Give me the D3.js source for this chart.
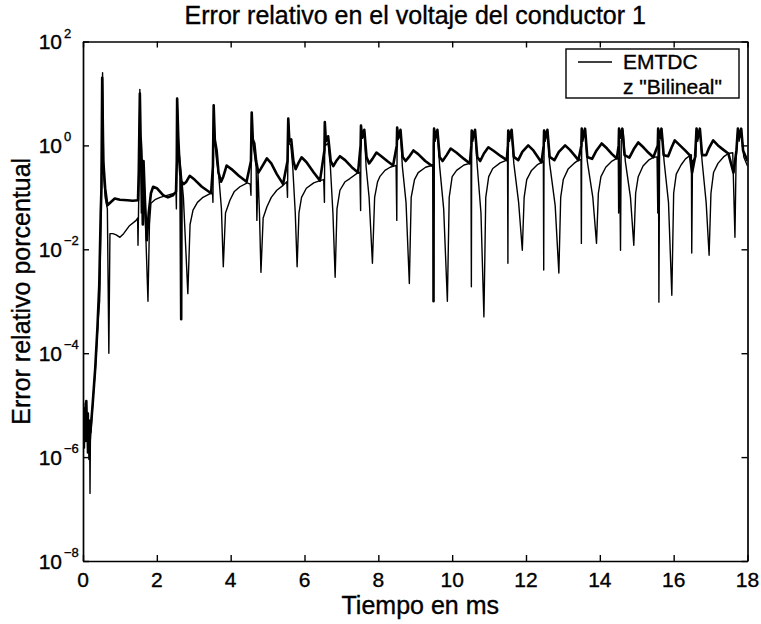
<!DOCTYPE html>
<html>
<head>
<meta charset="utf-8">
<script src="https://cdn.jsdelivr.net/npm/d3@7"></script>
<style>
  body { margin: 0; background: #fff; }
  text { font-family: "Liberation Sans", Arial, sans-serif; fill: #000; stroke: #000; stroke-width: 0.35px; }
</style>
</head>
<body>
<svg id="chart" width="761" height="624"></svg>
<script>
// tick values
var xTicks = [0, 2, 4, 6, 8, 10, 12, 14, 16, 18];
var yExponents = [-8, -6, -4, -2, 0, 2];
var seriesNames = ["EMTDC", "z \"Bilineal\""];

// EMTDC: [time ms, relative error %]
var emtdc = [
  [0.00,3e-6],[0.02,9e-6],[0.04,1.5e-6],[0.06,1.1e-5],[0.08,2e-6],[0.10,7e-6],[0.12,1.2e-6],[0.14,5e-6],[0.16,9e-7],[0.18,3e-6],[0.19,2e-7],[0.20,2e-6],
  [0.27,1.3e-5],[0.34,5.5e-5],[0.41,4.4e-4],[0.45,1e-3],[0.50,0.19],[0.53,25],[0.56,0.3],[0.60,0.1],[0.66,0.06],[0.70,1e-4],[0.73,0.02],[0.81,0.02],[0.90,0.019],[1.00,0.017],[1.10,0.02],[1.25,0.028],[1.44,0.036],
  [1.48,0.04],[1.49,0.012],[1.52,0.3],[1.54,12],[1.56,0.5],[1.58,0.05],[1.61,0.5],[1.65,0.3],[1.70,0.02],[1.76,1e-3],[1.80,0.03],[1.84,0.077],[1.95,0.09],[2.09,0.1],[2.30,0.11],[2.48,0.12],
  [2.52,0.12],[2.53,0.06],[2.55,8],[2.58,1.0],[2.63,0.5],[2.72,0.1],[2.84,1.4e-3],[2.90,0.03],[2.98,0.057],[3.10,0.08],[3.25,0.1],[3.47,0.12],
  [3.51,0.12],[3.52,0.08],[3.54,5.9],[3.57,1.2],[3.62,0.5],[3.67,0.3],[3.75,0.06],[3.80,4.6e-3],[3.86,0.05],[3.98,0.088],[4.10,0.13],[4.25,0.16],[4.45,0.19],
  [4.53,0.18],[4.55,0.11],[4.57,4.3],[4.59,1.25],[4.64,0.7],[4.69,0.38],[4.71,0.036],[4.74,0.3],[4.78,0.05],[4.82,3.6e-3],[4.88,0.04],[4.98,0.065],[5.10,0.1],[5.25,0.137],[5.42,0.17],
  [5.52,0.2],[5.54,0.1],[5.56,3.3],[5.58,1.1],[5.63,1.0],[5.68,0.4],[5.75,0.05],[5.80,4.6e-3],[5.85,0.05],[5.92,0.1],[6.05,0.15],[6.25,0.19],[6.42,0.21],
  [6.52,0.22],[6.54,0.08],[6.55,2.8],[6.57,1.0],[6.64,1.1],[6.70,0.4],[6.77,0.05],[6.83,2.9e-3],[6.88,0.06],[6.96,0.137],[7.10,0.2],[7.23,0.23],[7.45,0.3],
  [7.50,0.3],[7.52,0.056],[7.53,2.4],[7.56,1.5],[7.62,1.9],[7.67,0.38],[7.75,0.1],[7.84,5.4e-3],[7.90,0.1],[7.98,0.2],[8.04,0.25],[8.18,0.33],[8.32,0.38],[8.42,0.4],
  [8.48,0.41],[8.50,0.036],[8.51,2.2],[8.54,1.3],[8.60,1.9],[8.65,0.4],[8.75,0.08],[8.84,2.2e-3],[8.89,0.1],[8.98,0.22],[9.08,0.3],[9.28,0.38],[9.44,0.41],
  [9.48,0.42],[9.50,0.05],[9.51,2.1],[9.54,1.2],[9.60,1.9],[9.66,0.4],[9.77,0.06],[9.87,1e-3],[9.92,0.1],[10.00,0.25],[10.12,0.33],[10.32,0.42],[10.48,0.45],
  [10.51,0.46],[10.52,1.9e-3],[10.53,1.94],[10.56,1.2],[10.62,1.9],[10.68,0.4],[10.78,0.05],[10.86,5e-4],[10.91,0.1],[10.99,0.25],[11.10,0.36],[11.30,0.46],[11.48,0.52],
  [11.50,0.5],[11.51,5.4e-3],[11.52,1.94],[11.55,1.2],[11.61,1.9],[11.67,0.45],[11.80,0.08],[11.90,9.6e-3],[11.95,0.1],[12.02,0.22],[12.15,0.33],[12.30,0.42],[12.42,0.47],
  [12.47,0.5],[12.48,4e-3],[12.49,1.94],[12.52,1.2],[12.58,1.9],[12.64,0.45],[12.79,0.07],[12.89,3.5e-3],[12.94,0.1],[13.01,0.22],[13.14,0.35],[13.30,0.45],[13.42,0.52],
  [13.49,0.54],[13.50,0.013],[13.51,2.1],[13.54,1.2],[13.60,1.9],[13.66,0.5],[13.81,0.1],[13.91,0.013],[13.96,0.12],[14.03,0.25],[14.16,0.38],[14.33,0.5],[14.46,0.56],
  [14.50,0.57],[14.51,0.05],[14.52,2.1],[14.54,0.3],[14.56,9.6e-3],[14.58,1.2],[14.63,1.9],[14.69,0.5],[14.83,0.1],[14.92,0.012],[14.97,0.12],[15.04,0.25],[15.17,0.4],[15.32,0.52],[15.45,0.59],
  [15.55,0.6],[15.57,0.05],[15.58,2.1],[15.59,0.3],[15.60,9.6e-4],[15.62,1.2],[15.68,1.9],[15.74,0.5],[15.86,0.08],[15.95,1.3e-3],[16.00,0.12],[16.07,0.28],[16.20,0.42],[16.32,0.55],[16.44,0.64],
  [16.48,0.66],[16.49,8.5e-3],[16.51,0.5],[16.60,0.6],[16.62,2.1],[16.65,1.2],[16.71,1.9],[16.77,0.5],[16.88,0.08],[16.96,7.7e-3],[17.01,0.12],[17.08,0.3],[17.20,0.45],[17.35,0.6],[17.48,0.7],
  [17.60,0.72],[17.66,0.017],[17.69,0.5],[17.74,2.1],[17.77,1.2],[17.83,1.9],[17.90,0.6],[18.00,0.4]
];

// z "Bilineal": the heavier trace
var bilineal = [
  [0.00,5e-6],[0.03,2e-6],[0.05,8e-6],[0.07,3e-6],[0.09,1.2e-5],[0.11,2.5e-6],[0.13,7e-6],[0.15,1.5e-6],[0.17,5e-6],[0.20,3e-6],
  [0.26,1e-5],[0.33,5e-5],[0.39,3e-4],[0.44,2e-3],[0.48,0.05],[0.50,0.15],[0.52,20],[0.55,0.5],[0.60,0.15],[0.66,0.07],[0.72,0.077],[0.86,0.095],[1.00,0.09],[1.20,0.088],[1.35,0.086],[1.49,0.088],
  [1.51,0.3],[1.54,10],[1.56,1.5],[1.58,0.8],[1.60,0.3],[1.62,0.03],[1.64,0.5],[1.68,0.08],[1.73,0.015],[1.78,0.05],[1.84,0.12],[1.90,0.16],[2.00,0.15],[2.17,0.11],[2.30,0.1],[2.44,0.11],
  [2.52,0.13],[2.54,0.5],[2.55,8],[2.58,1.5],[2.61,0.5],[2.64,0.25],[2.66,4.5e-4],[2.67,0.2],[2.73,0.18],[2.80,0.2],[2.89,0.26],[3.02,0.22],[3.22,0.16],[3.47,0.12],
  [3.52,0.4],[3.54,5.9],[3.57,1.3],[3.62,0.8],[3.67,0.3],[3.74,0.2],[3.80,0.25],[3.89,0.41],[4.02,0.35],[4.22,0.26],[4.43,0.2],
  [4.55,0.5],[4.57,4.3],[4.60,1.3],[4.64,1.1],[4.69,0.5],[4.75,0.3],[4.81,0.35],[4.98,0.56],[5.10,0.45],[5.25,0.28],[5.42,0.18],
  [5.54,0.5],[5.56,3.3],[5.59,1.2],[5.64,1.3],[5.70,0.5],[5.76,0.35],[5.83,0.45],[5.92,0.59],[6.05,0.48],[6.25,0.3],[6.42,0.21],
  [6.54,0.8],[6.55,2.8],[6.58,1.2],[6.64,1.5],[6.71,0.5],[6.78,0.4],[6.86,0.5],[6.96,0.62],[7.10,0.52],[7.28,0.38],[7.45,0.3],
  [7.52,1.0],[7.53,2.4],[7.56,1.4],[7.62,2.0],[7.68,0.6],[7.75,0.45],[7.84,0.55],[7.95,0.73],[8.08,0.62],[8.24,0.5],[8.40,0.41],
  [8.50,1.0],[8.51,2.2],[8.54,1.4],[8.60,2.0],[8.66,0.6],[8.74,0.5],[8.83,0.6],[8.95,0.8],[9.08,0.68],[9.27,0.5],[9.44,0.41],
  [9.49,0.42],[9.495,1e-3],[9.50,1.0],[9.51,2.1],[9.54,1.4],[9.60,2.0],[9.66,0.6],[9.74,0.5],[9.85,0.65],[9.96,0.87],[10.12,0.72],[10.32,0.55],[10.48,0.45],
  [10.52,1.0],[10.53,1.94],[10.56,1.4],[10.62,2.0],[10.68,0.6],[10.76,0.5],[10.86,0.7],[10.98,0.92],[11.13,0.78],[11.32,0.62],[11.48,0.52],
  [11.51,1.0],[11.52,1.94],[11.55,1.4],[11.61,2.0],[11.67,0.6],[11.79,0.52],[11.90,0.75],[12.06,1.0],[12.20,0.8],[12.32,0.6],[12.42,0.47],
  [12.48,1.0],[12.49,1.94],[12.52,1.4],[12.58,2.0],[12.64,0.6],[12.77,0.52],[12.89,0.75],[13.06,1.0],[13.19,0.82],[13.31,0.65],[13.42,0.52],
  [13.50,1.0],[13.51,2.1],[13.54,1.4],[13.60,2.1],[13.66,0.6],[13.79,0.55],[13.91,0.8],[14.05,1.09],[14.19,0.88],[14.33,0.68],[14.46,0.56],
  [14.51,1.0],[14.52,2.1],[14.55,1.4],[14.61,2.1],[14.67,0.65],[14.80,0.58],[14.92,0.85],[15.04,1.14],[15.18,0.92],[15.32,0.72],[15.45,0.59],
  [15.57,1.0],[15.58,2.1],[15.61,1.4],[15.67,2.1],[15.73,0.65],[15.85,0.62],[15.94,0.9],[16.03,1.25],[16.17,1.0],[16.31,0.8],[16.44,0.64],
  [16.50,0.3],[16.58,0.6],[16.62,2.1],[16.65,1.4],[16.71,2.1],[16.77,0.65],[16.88,0.65],[16.96,0.9],[17.07,1.25],[17.20,1.0],[17.35,0.82],[17.48,0.7],
  [17.62,0.3],[17.70,0.8],[17.74,2.1],[17.77,1.4],[17.83,2.1],[17.88,0.8],[18.00,0.5]
];

var svg = d3.select("svg#chart"),
    margin = {top: 41.5, right: 13.5, bottom: 63, left: 83},
    width = +svg.attr("width") - margin.left - margin.right,
    height = +svg.attr("height") - margin.top - margin.bottom;

svg.append("rect").attr("width", 761).attr("height", 624).attr("fill", "#fff");

var x = d3.scaleLinear().domain([0, 18]).range([0, width]);
var y = d3.scaleLog().domain([1e-8, 1e2]).range([height, 0]);

var g = svg.append("g")
    .attr("transform", "translate(" + margin.left + "," + margin.top + ")");

g.append("clipPath").attr("id", "plot-clip")
  .append("rect").attr("width", width).attr("height", height);

// traces
var line = d3.line()
    .x(function(d) { return x(d[0]); })
    .y(function(d) { return y(d[1]); });

var traces = g.append("g").attr("clip-path", "url(#plot-clip)");

traces.append("path")
    .datum(bilineal)
    .attr("fill", "none")
    .attr("stroke", "#000")
    .attr("stroke-width", 2.6)
    .attr("stroke-linejoin", "round")
    .attr("d", line);

traces.append("path")
    .datum(emtdc)
    .attr("fill", "none")
    .attr("stroke", "#000")
    .attr("stroke-width", 1.4)
    .attr("stroke-linejoin", "round")
    .attr("d", line);

// axes, ticks pointing inward on all four sides
var yTickVals = yExponents.map(function(e) { return Math.pow(10, e); });

g.append("g").attr("class", "axis")
    .attr("transform", "translate(0," + height + ")")
    .call(d3.axisBottom(x).tickValues(xTicks).tickSize(-6).tickSizeOuter(0).tickFormat(""));
g.append("g").attr("class", "axis")
    .call(d3.axisTop(x).tickValues(xTicks).tickSize(-6).tickSizeOuter(0).tickFormat(""));
g.append("g").attr("class", "axis")
    .call(d3.axisLeft(y).tickValues(yTickVals).tickSize(-6).tickSizeOuter(0).tickFormat(""));
g.append("g").attr("class", "axis")
    .attr("transform", "translate(" + width + ",0)")
    .call(d3.axisRight(y).tickValues(yTickVals).tickSize(-6).tickSizeOuter(0).tickFormat(""));

g.selectAll(".axis path").attr("stroke", "#000").attr("stroke-width", 1.7);
g.selectAll(".axis line").attr("stroke", "#000").attr("stroke-width", 1.4);

// tick labels
g.selectAll(".xlabel")
  .data(xTicks)
  .enter().append("text")
    .attr("class", "xlabel")
    .attr("x", function(d) { return x(d); })
    .attr("y", height + 26)
    .attr("text-anchor", "middle")
    .style("font-size", "21px")
    .text(function(d) { return d; });

var ylab = g.selectAll(".ylabel")
  .data(yExponents)
  .enter().append("g")
    .attr("class", "ylabel")
    .attr("transform", function(d) { return "translate(0," + y(Math.pow(10, d)) + ")"; });

ylab.append("text")
    .attr("x", -21)
    .attr("y", 7.5)
    .attr("text-anchor", "end")
    .style("font-size", "21px")
    .text("10");

ylab.append("text")
    .attr("x", -19)
    .attr("y", -4)
    .style("font-size", "13px")
    .text(function(d) { return d < 0 ? "\u2212" + (-d) : d; });

// titles
svg.append("text")
    .attr("x", margin.left + width / 2)
    .attr("y", 24)
    .attr("text-anchor", "middle")
    .style("font-size", "25px")
    .text("Error relativo en el voltaje del conductor 1");

svg.append("text")
    .attr("x", margin.left + width / 2 + 5)
    .attr("y", 614)
    .attr("text-anchor", "middle")
    .style("font-size", "25px")
    .text("Tiempo en ms");

svg.append("text")
    .attr("transform", "translate(30," + (margin.top + height / 2 - 10) + ") rotate(-90)")
    .attr("text-anchor", "middle")
    .style("font-size", "25px")
    .text("Error relativo porcentual");

// legend
var legend = svg.append("g").attr("transform", "translate(566,49)");

legend.append("rect")
    .attr("width", 173)
    .attr("height", 49)
    .attr("fill", "#fff")
    .attr("stroke", "#000")
    .attr("stroke-width", 1.4);

legend.append("line")
    .attr("x1", 12).attr("x2", 46)
    .attr("y1", 13).attr("y2", 13)
    .attr("stroke", "#000")
    .attr("stroke-width", 1.4);

legend.selectAll(".legtext")
  .data(seriesNames)
  .enter().append("text")
    .attr("class", "legtext")
    .attr("x", 57)
    .attr("y", function(d, i) { return 20 + i * 25; })
    .style("font-size", "21px")
    .text(function(d) { return d; });
</script>
</body>
</html>
